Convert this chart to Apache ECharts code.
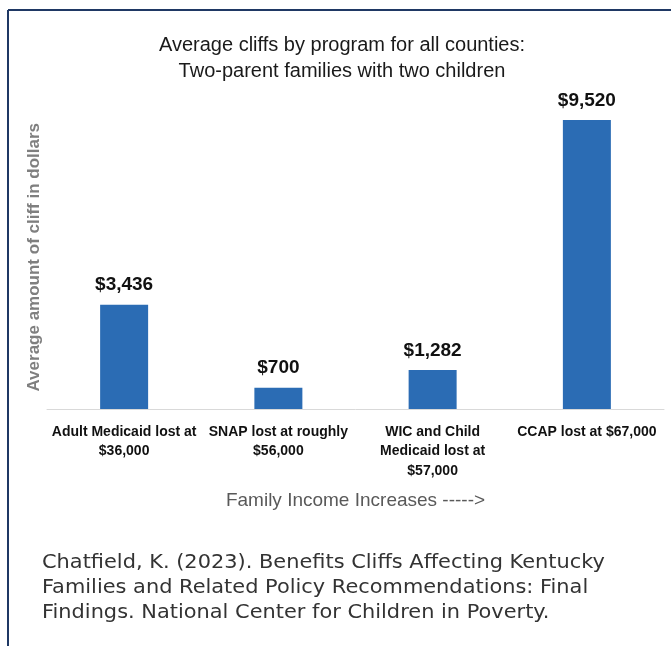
<!DOCTYPE html>
<html>
<head>
<meta charset="utf-8">
<script src="https://cdn.jsdelivr.net/npm/echarts@6/dist/echarts.min.js"></script>
<style>html,body{margin:0;padding:0;background:#fff;}#c{width:671px;height:646px;}</style>
</head>
<body>
<div id="c"></div>
<script>
var categories = ['Adult Medicaid lost at\n$36,000', 'SNAP lost at roughly\n$56,000', 'WIC and Child\nMedicaid lost at\n$57,000', 'CCAP lost at $67,000'];
var values = [3436, 700, 1282, 9520];
var titleLines = ['Average cliffs by program for all counties:', 'Two-parent families with two children'];
var yName = 'Average amount of cliff in dollars';
var xName = 'Family Income Increases ----->';
var citation = 'Chatfield, K. (2023). Benefits Cliffs Affecting Kentucky\nFamilies and Related Policy Recommendations: Final\nFindings. National Center for Children in Poverty.';

var chart = echarts.init(document.getElementById('c'), null, {renderer: 'canvas'});
chart.setOption({
  animation: false,
  backgroundColor: '#fff',
  title: {
    text: titleLines.join('\n'),
    left: 337, top: 27, textAlign: 'center',
    textStyle: {fontFamily: 'Liberation Sans', fontSize: 20, fontWeight: 'normal', color: '#1a1a1a', lineHeight: 26}
  },
  grid: {left: 47, right: 7, top: 105.5, bottom: 237},
  xAxis: {
    type: 'category', data: categories,
    axisLine: {lineStyle: {color: '#d9d9d9', width: 1}},
    axisTick: {show: false},
    axisLabel: {interval: 0, margin: 13, fontFamily: 'Liberation Sans', fontSize: 14, fontWeight: 'bold', color: '#111', lineHeight: 19.5},
    name: xName, nameLocation: 'middle', nameGap: 82,
    nameTextStyle: {fontFamily: 'Liberation Sans', fontSize: 19, color: '#595959'}
  },
  yAxis: {
    type: 'value', min: 0, max: 10000,
    axisLine: {show: false}, axisTick: {show: false}, axisLabel: {show: false}, splitLine: {show: false},
    name: yName, nameLocation: 'middle', nameGap: 4,
    nameTextStyle: {fontFamily: 'Liberation Sans', fontSize: 17, fontWeight: 'bold', color: '#7f7f7f'}
  },
  series: [{
    type: 'bar', data: values, barWidth: 48,
    itemStyle: {color: '#2b6cb4'},
    label: {
      show: true, position: 'top', distance: 10,
      fontFamily: 'Liberation Sans', fontSize: 19, fontWeight: 'bold', color: '#111',
      formatter: function (p) { return '$' + p.value.toLocaleString('en-US'); }
    }
  }],
  graphic: [
    {type: 'line', shape: {x1: 8, y1: 10, x2: 671, y2: 10}, style: {stroke: '#1f3864', lineWidth: 2}},
    {type: 'line', shape: {x1: 8, y1: 10, x2: 8, y2: 646}, style: {stroke: '#1f3864', lineWidth: 2}},
    {type: 'text', x: 42, y: 551, scaleX: 1.1, style: {text: citation, font: '19px "DejaVu Sans"', fill: '#333', lineHeight: 25}}
  ]
});
</script>
</body>
</html>
